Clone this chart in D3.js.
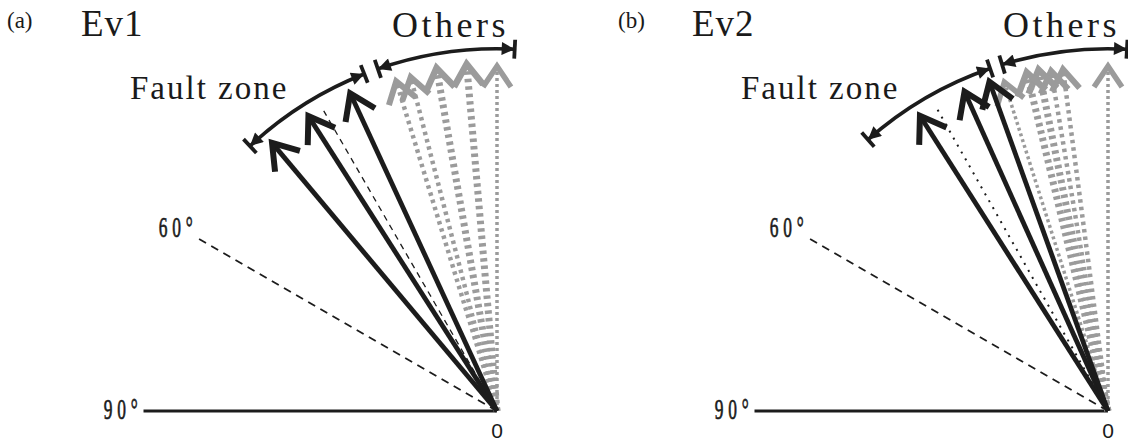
<!DOCTYPE html>
<html lang='en'>
<head>
<meta charset='utf-8'/>
<title>Ev1 / Ev2 slip directions</title>
<script src='https://d3js.org/d3.v7.min.js'></script>
<style>
  body { margin: 0; background: #fff; }
  text { font-family: 'Liberation Serif', 'Times New Roman', serif; fill: #1a1a1a; }
</style>
</head>
<body>
<script>
'use strict'
// angles in degrees, measured from the vertical (0) towards the left (90)
const panelLabels = ['(a)', '(b)']
const eventNames = ['Ev1', 'Ev2']
const faultArrows = [[40, 32.6, 24.8], [32.5, 24.2, 19.8]]
const meanLines = [30, 29.5]
const othersWide = [[5, 10], [11.5, 13.5]]
const othersNarrow = [[14.5, 17], [7.5, 9.5]]
const othersDotted = [[0], [0, 17.5]]
const faultRange = [[43, 21.5], [41.5, 19]]
const othersRange = [[19.2, -2.8], [17, -3]]
const refAngles = [60, 90]
const refLabels = ['60°', '90°']
const rangeLabels = ['Fault zone', 'Others']

const width = 1128
const height = 443
const origins = [[497, 411], [1108, 411]]
const grey = '#9b9b9b'
const black = '#1c1c1c'

const ang = d3.scaleLinear().domain([0, 90]).range([0, Math.PI / 2])
const rad = d3.scaleLinear().domain([0, 1]).range([0, 350])

const svg = d3.select('body').append('svg')
  .attr('width', width)
  .attr('height', height)

svg.append('rect').attr('width', width).attr('height', height).attr('fill', '#fff')

const defs = svg.append('defs')
defs.append('marker')
  .attr('id', 'tri')
  .attr('viewBox', '0 0 10 10')
  .attr('refX', 10).attr('refY', 5)
  .attr('markerWidth', 18).attr('markerHeight', 13)
  .attr('markerUnits', 'userSpaceOnUse')
  .attr('orient', 'auto-start-reverse')
  .append('path')
  .attr('d', 'M0,0L10,5L0,10z')
  .attr('fill', black)

/**
 * point at angle a (deg) and unit radius r from origin o
 */
function pt(o, a, r)
{
  const t = ang(a)
  return [o[0] - rad(r) * Math.sin(t), o[1] - rad(r) * Math.cos(t)]
}

/**
 * open chevron head at the tip of a ray
 */
function headPath(o, a, r, len, spread)
{
  const tip = pt(o, a, r)
  const t = ang(a)
  const dx = Math.sin(t), dy = Math.cos(t)
  const s = spread * Math.PI / 180
  const leg = function(al) {
    return [tip[0] + len * (dx * Math.cos(al) - dy * Math.sin(al)),
            tip[1] + len * (dx * Math.sin(al) + dy * Math.cos(al))]
  }
  const p1 = leg(s), p2 = leg(-s)
  return 'M' + p1 + 'L' + tip + 'L' + p2
}

function drawRay(g, o, a, r, opts)
{
  const p = pt(o, a, r)
  g.append('line')
    .attr('x1', o[0]).attr('y1', o[1])
    .attr('x2', p[0]).attr('y2', p[1])
    .attr('stroke', opts.color)
    .attr('stroke-width', opts.width)
    .attr('stroke-dasharray', opts.dash || null)
  if (opts.head)
  {
    g.append('path')
      .attr('d', headPath(o, a, r, opts.headLen, 34))
      .attr('fill', 'none')
      .attr('stroke', opts.color)
      .attr('stroke-width', opts.headWidth)
      .attr('stroke-linejoin', 'miter')
  }
}

function drawRange(g, o, range, r)
{
  const p = d3.path()
  const a0 = -ang(90 + range[0])
  const a1 = -ang(90 + range[1])
  p.arc(o[0], o[1], rad(r), a0, a1, false)
  g.append('path')
    .attr('d', p.toString())
    .attr('fill', 'none')
    .attr('stroke', black)
    .attr('stroke-width', 3.6)
    .attr('marker-start', 'url(#tri)')
    .attr('marker-end', 'url(#tri)')
  range.forEach(function(a) {
    const q0 = pt(o, a, r - 0.027)
    const q1 = pt(o, a, r + 0.027)
    g.append('line')
      .attr('x1', q0[0]).attr('y1', q0[1])
      .attr('x2', q1[0]).attr('y2', q1[1])
      .attr('stroke', black)
      .attr('stroke-width', 3.8)
  })
}

function condensed(g, x, y, str, anchor)
{
  g.append('text')
    .attr('transform', 'translate(' + x + ',' + y + ') scale(0.6,1)')
    .attr('text-anchor', anchor)
    .attr('font-size', 29)
    .attr('letter-spacing', 8)
    .attr('stroke', '#1a1a1a')
    .attr('stroke-width', 0.7)
    .text(str)
}

function drawPanel(i)
{
  const o = origins[i]
  const g = svg.append('g')

  // reference directions
  const p60 = pt(o, refAngles[0], 0.995)
  g.append('line')
    .attr('x1', o[0]).attr('y1', o[1]).attr('x2', p60[0]).attr('y2', p60[1])
    .attr('stroke', black).attr('stroke-width', 1.8).attr('stroke-dasharray', '8,6')
  const p90 = pt(o, refAngles[1], 1.01)
  g.append('line')
    .attr('x1', o[0]).attr('y1', o[1]).attr('x2', p90[0]).attr('y2', p90[1])
    .attr('stroke', black).attr('stroke-width', 3.2)
  condensed(g, p60[0] + 2, p60[1], refLabels[0], 'end')
  condensed(g, p90[0] - 1, p90[1] + 8, refLabels[1], 'end')

  // others (grey)
  othersDotted[i].forEach(function(a) {
    drawRay(g, o, a, 0.985, {color: grey, width: 3.5, dash: '3,3', head: true, headLen: 25, headWidth: 5.5})
  })
  othersNarrow[i].forEach(function(a) {
    drawRay(g, o, a, 0.985, {color: grey, width: 4.5, dash: '3.5,4', head: true, headLen: 25, headWidth: 6})
  })
  othersWide[i].forEach(function(a) {
    drawRay(g, o, a, 0.995, {color: grey, width: 7, dash: '3.5,4', head: true, headLen: 26, headWidth: 6.5})
  })

  // mean direction of fault zone
  const pm = pt(o, meanLines[i], 0.99)
  g.append('line')
    .attr('x1', o[0]).attr('y1', o[1])
    .attr('x2', pm[0]).attr('y2', pm[1])
    .attr('stroke', black)
    .attr('stroke-width', i === 0 ? 1.3 : 2)
    .attr('stroke-dasharray', i === 0 ? '6,5' : '2,6')

  // fault zone (black)
  faultArrows[i].forEach(function(a) {
    drawRay(g, o, a, 1.0, {color: black, width: 4.8, head: true, headLen: 29, headWidth: 6})
  })

  drawRange(g, o, faultRange[i], 1.035)
  drawRange(g, o, othersRange[i], 1.035)

  // labels
  g.append('text')
    .attr('x', o[0] - 490).attr('y', o[1] - 383)
    .attr('font-size', 23)
    .text(panelLabels[i])
  g.append('text')
    .attr('x', o[0] - 416).attr('y', o[1] - 375)
    .attr('font-size', 37)
    .attr('letter-spacing', 1)
    .text(eventNames[i])
  g.append('text')
    .attr('x', o[0] - 367).attr('y', o[1] - 312)
    .attr('font-size', 33)
    .attr('letter-spacing', 2)
    .text(rangeLabels[0])
  g.append('text')
    .attr('x', o[0] - 105).attr('y', o[1] - 374)
    .attr('font-size', 36)
    .attr('letter-spacing', 3.5)
    .text(rangeLabels[1])
  g.append('text')
    .attr('x', o[0]).attr('y', o[1] + 27)
    .attr('text-anchor', 'middle')
    .attr('font-size', 21)
    .style('font-family', "'Liberation Sans', Arial, sans-serif")
    .text('0')
}

panelLabels.forEach(function(d, i) { drawPanel(i) })
</script>
</body>
</html>
